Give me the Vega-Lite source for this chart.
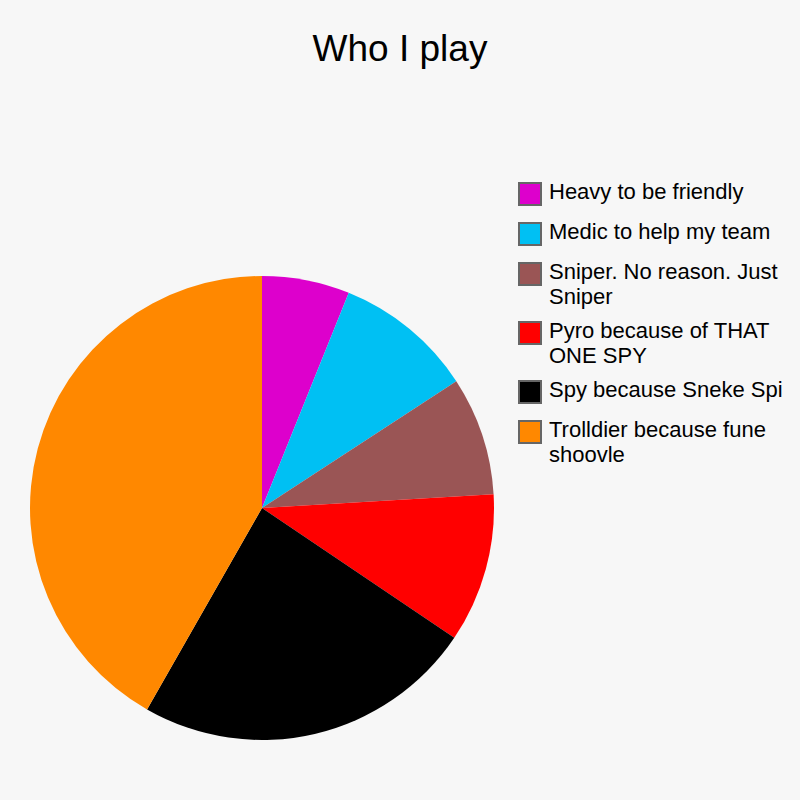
{
  "$schema": "https://vega.github.io/schema/vega-lite/v6.json",
  "width": 464,
  "height": 464,
  "autosize": {"type": "none"},
  "padding": {"left": 30, "top": 276, "right": 306, "bottom": 60},
  "background": "#f7f7f7",
  "title": {
    "text": "Who I play",
    "font": "Liberation Sans",
    "fontSize": 37,
    "fontWeight": "normal",
    "color": "#000000",
    "anchor": "middle",
    "frame": "group",
    "baseline": "alphabetic",
    "dx": 138,
    "offset": 84
  },
  "data": {
    "values": [
      {"idx": 1, "class": "Heavy to be friendly", "share": 6.1},
      {"idx": 2, "class": "Medic to help my team", "share": 9.7},
      {"idx": 3, "class": "Sniper. No reason. Just Sniper", "share": 8.25},
      {"idx": 4, "class": "Pyro because of THAT ONE SPY", "share": 10.4},
      {"idx": 5, "class": "Spy because Sneke Spi", "share": 23.8},
      {"idx": 6, "class": "Trolldier because fune shoovle", "share": 41.75}
    ]
  },
  "mark": {"type": "arc", "outerRadius": 232},
  "encoding": {
    "theta": {"field": "share", "type": "quantitative", "stack": true},
    "order": {"field": "idx", "type": "quantitative"},
    "color": {
      "field": "class",
      "type": "nominal",
      "sort": null,
      "scale": {
        "domain": ["Heavy to be friendly", "Medic to help my team", "Sniper. No reason. Just Sniper", "Pyro because of THAT ONE SPY", "Spy because Sneke Spi", "Trolldier because fune shoovle"],
        "range": ["#dd00cc", "#00c0f3", "#9a5555", "#ff0000", "#000000", "#ff8800"]
      },
      "legend": {
        "title": null,
        "orient": "none",
        "legendX": 488,
        "legendY": -94,
        "symbolType": "square",
        "symbolSize": 484,
        "symbolStrokeColor": "#666666",
        "symbolStrokeWidth": 2,
        "symbolOpacity": 1,
        "labelFont": "Liberation Sans",
        "labelFontSize": 22,
        "labelColor": "#000000",
        "labelOffset": 7,
        "labelLimit": 300,
        "labelBaseline": "top",
        "rowPadding": 10,
        "encoding": {"labels": {"dy": {"value": -12}, "lineHeight": {"value": 25}}},
        "labelExpr": "datum.label == 'Sniper. No reason. Just Sniper' ? ['Sniper. No reason. Just', 'Sniper'] : datum.label == 'Pyro because of THAT ONE SPY' ? ['Pyro because of THAT', 'ONE SPY'] : datum.label == 'Trolldier because fune shoovle' ? ['Trolldier because fune', 'shoovle'] : datum.label"
      }
    }
  }
}
